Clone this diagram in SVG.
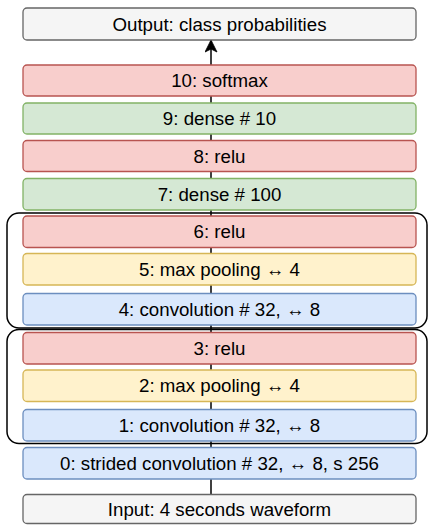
<svg xmlns="http://www.w3.org/2000/svg" width="428" height="525" viewBox="0 0 428 525">
  <style>
    .box { stroke-width: 1.3; }
    .red { fill: #f8cecc; stroke: #b85450; }
    .green { fill: #d5e8d4; stroke: #82b366; }
    .yellow { fill: #fff2cc; stroke: #d6b656; }
    .blue { fill: #dae8fc; stroke: #6c8ebf; }
    .grey { fill: #f5f5f5; stroke: #666666; }
    .block { fill: none; stroke: #000000; stroke-width: 1.5; }
    text { font-family: "Liberation Sans", Arial, Helvetica, sans-serif; font-size: 18.7px; fill: #000000; text-anchor: middle; }
  </style>
  <defs>
    <marker id="arrow" markerWidth="13" markerHeight="13" refX="6.5" refY="0.5" orient="0" markerUnits="userSpaceOnUse" viewBox="0 0 13 13">
      <path d="M6.5 0.5 L12.5 12.5 L6.5 9.5 L0.5 12.5 Z" fill="#000000" stroke="#000000" stroke-width="0.8" stroke-linejoin="miter"/>
    </marker>
  </defs>

  <!-- data flow: input at the bottom, output at the top -->
  <g id="connectors">
    <line x1="211" y1="494" x2="211" y2="40" stroke="#000000" stroke-width="1.5" marker-end="url(#arrow)"/>
  </g>

  <!-- the two convolution blocks -->
  <g id="block-2">
    <rect class="block" x="7" y="213" width="420" height="115" rx="12"/>
  </g>
  <g id="block-1">
    <rect class="block" x="7" y="329.5" width="420" height="114" rx="12"/>
  </g>

  <g id="output">
    <rect class="box grey" x="23" y="8" width="393" height="32" rx="4"/>
    <text x="219.5" y="30.5">Output: class probabilities</text>
  </g>
  <g id="layer-10">
    <rect class="box red" x="23" y="65" width="393" height="31" rx="4"/>
    <text x="219.5" y="87">10: softmax</text>
  </g>
  <g id="layer-9">
    <rect class="box green" x="23" y="103" width="393" height="31" rx="4"/>
    <text x="219.5" y="125">9: dense # 10</text>
  </g>
  <g id="layer-8">
    <rect class="box red" x="23" y="140.5" width="393" height="31" rx="4"/>
    <text x="219.5" y="162.5">8: relu</text>
  </g>
  <g id="layer-7">
    <rect class="box green" x="23" y="178.5" width="393" height="31.5" rx="4"/>
    <text x="219.5" y="200.5">7: dense # 100</text>
  </g>
  <g id="layer-6">
    <rect class="box red" x="23" y="216" width="393" height="31.5" rx="4"/>
    <text x="219.5" y="238">6: relu</text>
  </g>
  <g id="layer-5">
    <rect class="box yellow" x="23" y="253.5" width="393" height="31.5" rx="4"/>
    <text x="219.5" y="275.5">5: max pooling ↔ 4</text>
  </g>
  <g id="layer-4">
    <rect class="box blue" x="23" y="293.5" width="393" height="31.5" rx="4"/>
    <text x="219.5" y="315.5">4: convolution # 32, ↔ 8</text>
  </g>
  <g id="layer-3">
    <rect class="box red" x="23" y="332.5" width="393" height="31.5" rx="4"/>
    <text x="219.5" y="354.5">3: relu</text>
  </g>
  <g id="layer-2">
    <rect class="box yellow" x="23" y="370" width="393" height="31.5" rx="4"/>
    <text x="219.5" y="392">2: max pooling ↔ 4</text>
  </g>
  <g id="layer-1">
    <rect class="box blue" x="23" y="409.5" width="393" height="31.5" rx="4"/>
    <text x="219.5" y="431.5">1: convolution # 32, ↔ 8</text>
  </g>
  <g id="layer-0">
    <rect class="box blue" x="23" y="447.5" width="393" height="31.5" rx="4"/>
    <text x="219.5" y="469.5">0: strided convolution # 32, ↔ 8, s 256</text>
  </g>
  <g id="input">
    <rect class="box grey" x="23" y="494.5" width="393" height="29" rx="4"/>
    <text x="219.5" y="515.5">Input: 4 seconds waveform</text>
  </g>
</svg>
